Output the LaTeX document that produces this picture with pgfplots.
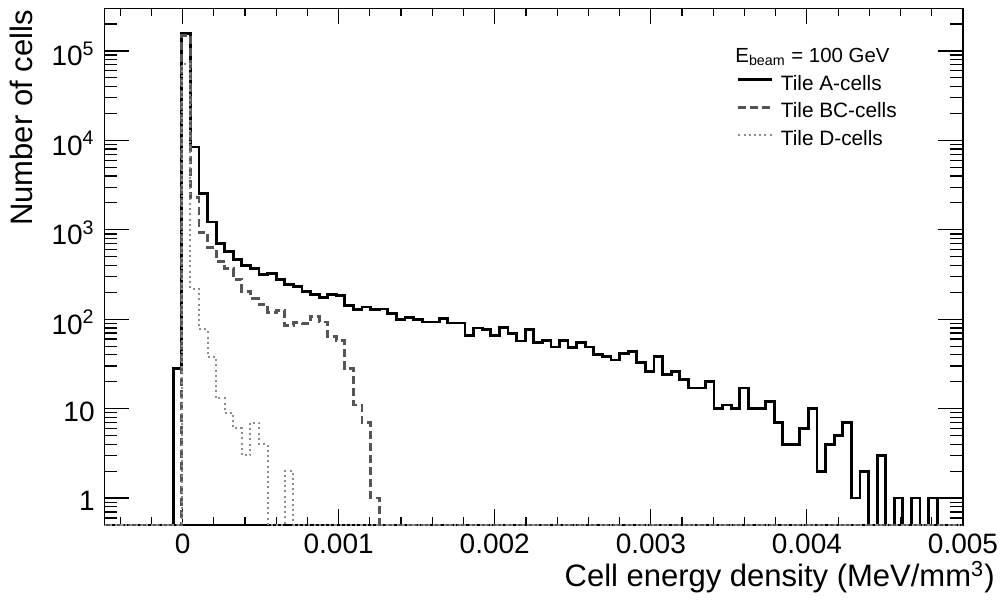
\documentclass[border=0pt]{standalone}
\usepackage{fontspec}
\setmainfont{Liberation Sans}
\usepackage{pgfplots}
\usepackage{pgfplotstable}
\pgfplotsset{compat=1.18}
\definecolor{bcgray}{HTML}{555555}
\definecolor{dgray}{HTML}{8C8C8C}

% bin left edges (100 bins of 0.000055 from -0.0005 to 0.005); 0.5 = empty bin
\pgfplotstableread{
x a bc d
-0.0005 0.5 0.5 0.5
-0.000445 0.5 0.5 0.5
-0.00039 0.5 0.5 0.5
-0.000335 0.5 0.5 0.5
-0.00028 0.5 0.5 0.5
-0.000225 0.5 0.5 0.5
-0.00017 0.5 0.5 0.5
-0.000115 0.5 0.5 0.5
-0.00006 28 0.5 0.5
-0.000005 157000 150000 72000
0.00005 8430 2300 219
0.000105 2540 930 77
0.00016 1220 630 38
0.000215 710 443 13
0.00027 573 367 9
0.000325 467 279 6
0.00038 400 206 3
0.000435 373 169 7
0.00049 315 145 4
0.000545 328 120 0.5
0.0006 277 125 0.5
0.000655 243 85 2
0.00071 231 92 0.5
0.000765 205 89 0.5
0.00082 189 108 0.5
0.000875 174 93 0.5
0.00093 189 64 0.5
0.000985 186 58 0.5
0.00104 143 28 0.5
0.001095 128 11 0.5
0.00115 137 7 0.5
0.001205 128 1 0.5
0.00126 130 0.5 0.5
0.001315 117 0.5 0.5
0.00137 99 0.5 0.5
0.001425 105 0.5 0.5
0.00148 99 0.5 0.5
0.001535 93 0.5 0.5
0.00159 93 0.5 0.5
0.001645 101 0.5 0.5
0.0017 91 0.5 0.5
0.001755 91 0.5 0.5
0.00181 66 0.5 0.5
0.001865 80 0.5 0.5
0.00192 77 0.5 0.5
0.001975 66 0.5 0.5
0.00203 81 0.5 0.5
0.002085 69 0.5 0.5
0.00214 57 0.5 0.5
0.002195 76 0.5 0.5
0.00225 55 0.5 0.5
0.002305 58 0.5 0.5
0.00236 49 0.5 0.5
0.002415 58 0.5 0.5
0.00247 48 0.5 0.5
0.002525 55 0.5 0.5
0.00258 49 0.5 0.5
0.002635 40 0.5 0.5
0.00269 38 0.5 0.5
0.002745 35 0.5 0.5
0.0028 41 0.5 0.5
0.002855 44 0.5 0.5
0.00291 33 0.5 0.5
0.002965 26 0.5 0.5
0.00302 38 0.5 0.5
0.003075 24 0.5 0.5
0.00313 26 0.5 0.5
0.003185 21 0.5 0.5
0.00324 17 0.5 0.5
0.003295 17 0.5 0.5
0.00335 20 0.5 0.5
0.003405 10 0.5 0.5
0.00346 11 0.5 0.5
0.003515 10 0.5 0.5
0.00357 17 0.5 0.5
0.003625 10 0.5 0.5
0.00368 10 0.5 0.5
0.003735 12 0.5 0.5
0.00379 7 0.5 0.5
0.003845 4 0.5 0.5
0.0039 4 0.5 0.5
0.003955 6 0.5 0.5
0.00401 10 0.5 0.5
0.004065 2 0.5 0.5
0.00412 4 0.5 0.5
0.004175 5 0.5 0.5
0.00423 7 0.5 0.5
0.004285 1 0.5 0.5
0.00434 2 0.5 0.5
0.004395 0.5 0.5 0.5
0.00445 3 0.5 0.5
0.004505 0.5 0.5 0.5
0.00456 1 0.5 0.5
0.004615 0.5 0.5 0.5
0.00467 1 0.5 0.5
0.004725 0.5 0.5 0.5
0.00478 1 0.5 0.5
0.004835 0.5 0.5 0.5
0.00489 0.5 0.5 0.5
0.004945 0.5 0.5 0.5
0.005 0.5 0.5 0.5
}\histdata

\begin{document}
\begin{tikzpicture}
\useasboundingbox (-52.25pt,-38pt) rectangle (449.25pt,262.5pt);
% main axis: data, x ticks, frame, legend
\begin{axis}[
  at={(0pt,0pt)}, anchor=south west,
  scale only axis, width=429.25pt, height=258.35pt,
  xmin=-0.0005, xmax=0.005,
  ymode=log, ymin=0.5, ymax=3e5,
  ytick=\empty,
  xtick={0,0.001,0.002,0.003,0.004,0.005},
  xticklabels={0,0.001,0.002,0.003,0.004,0.005},
  scaled x ticks=false,
  minor xtick={-0.0004,-0.0002,0.0002,0.0004,0.0006,0.0008,0.0012,0.0014,0.0016,0.0018,0.0022,0.0024,0.0026,0.0028,0.0032,0.0034,0.0036,0.0038,0.0042,0.0044,0.0046,0.0048},
  major tick length=8pt, minor tick length=4pt,
  tick style={line width=0.6pt, black},
  axis line style={line width=0.8pt},
  xticklabel style={font=\fontsize{14}{16}\selectfont, anchor=base, inner sep=0pt, yshift=-14pt},
  legend image code/.code={\draw[#1] (0pt,2.8pt) -- (17pt,2.8pt);},
  legend cell align=left,
  legend style={at={(0.7368,0.8705)}, anchor=north west, draw=none, fill=none,
    inner sep=0pt, outer sep=0pt, row sep=3.6pt,
    font=\fontsize{10.4}{12}\selectfont,
    nodes={inner sep=0pt, text height=7.6pt, text depth=2.5pt},
    /tikz/every odd column/.append style={column sep=3.5pt}},
]
\addplot[const plot, black, line width=1.4pt] table[x=x,y=a]{\histdata};
\addlegendentry{Tile A-cells}
\addplot[const plot, bcgray, line width=1.4pt, dash pattern=on 4pt off 2pt] table[x=x,y=bc]{\histdata};
\addlegendentry{Tile BC-cells}
\addplot[const plot, dgray, line width=1pt, dash pattern=on 1pt off 1.6pt] table[x=x,y=d]{\histdata};
\addlegendentry{Tile D-cells}
\end{axis}
% overlay axis: y ticks with their own lengths
\begin{axis}[
  at={(0pt,0pt)}, anchor=south west,
  scale only axis, width=429.25pt, height=258.35pt,
  xmin=0, xmax=1,
  ymode=log, ymin=0.5, ymax=3e5,
  hide x axis,
  ytick={1,10,100,1000,10000,100000},
  yticklabels={1,10,{10\textsuperscript{2}},{10\textsuperscript{3}},{10\textsuperscript{4}},{10\textsuperscript{5}}},
  minor ytick={0.6,0.7,0.8,0.9,2,3,4,5,6,7,8,9,20,30,40,50,60,70,80,90,200,300,400,500,600,700,800,900,2000,3000,4000,5000,6000,7000,8000,9000,20000,30000,40000,50000,60000,70000,80000,90000,200000,300000},
  major tick length=12.5pt, minor tick length=6.5pt,
  tick style={line width=0.6pt, black},
  axis line style={line width=0.8pt},
  yticklabel style={font=\fontsize{14}{16}\selectfont, anchor=east, inner sep=0pt, xshift=-4.75pt, yshift=-1.5pt},
]
\end{axis}
\node[anchor=base west, inner sep=0pt, font=\fontsize{10.2}{12}\selectfont] at (315.25pt,231.35pt) {E\textsubscript{beam} = 100 GeV};
\node[rotate=90, anchor=base east, inner sep=0pt, font=\fontsize{15.5}{18}\selectfont] at (-35.75pt,257.5pt) {Number of cells};
\node[anchor=base east, inner sep=0pt, font=\fontsize{15.5}{18}\selectfont] at (445.25pt,-30.85pt) {Cell energy density (MeV/mm\textsuperscript{3})};
\end{tikzpicture}
\end{document}
